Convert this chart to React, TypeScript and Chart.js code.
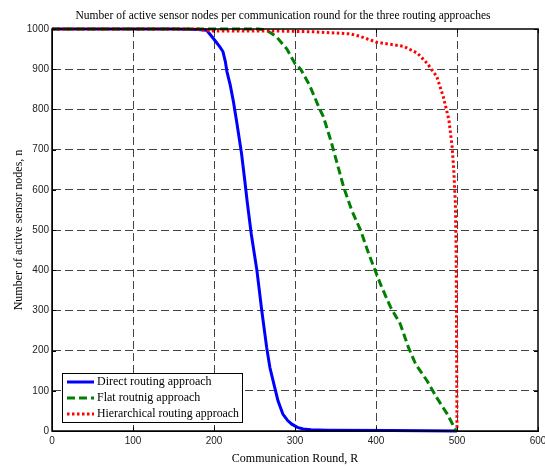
import React, { useEffect, useRef } from "react";
import { Chart, registerables } from "chart.js";

Chart.register(...registerables);

const TITLE = "Number of active sensor nodes per communication round for the three routing approaches";
const X_LABEL = "Communication Round, R";
const Y_LABEL = "Number of active sensor nodes, n";

const SERIES_NAMES = ["Direct routing approach", "Flat routnig approach", "Hierarchical routing approach"];
const SERIES_COLORS = ["#0000ff", "#008000", "#ff0000"];

const X_TICKS = [0, 100, 200, 300, 400, 500, 600];
const Y_TICKS = [0, 100, 200, 300, 400, 500, 600, 700, 800, 900, 1000];

const DIRECT_X = [0, 150, 180, 191, 199, 207, 211, 214, 216, 220, 224, 228, 234, 238, 241, 246, 253, 259, 265, 269, 275, 279, 285, 291, 296, 303, 310, 320, 340, 420, 500];
const DIRECT_Y = [1000, 1000, 999, 997, 977, 956, 944, 919, 894, 861, 819, 769, 690, 623, 570, 490, 399, 299, 208, 158, 108, 75, 42, 26, 17, 9, 5, 3, 2, 1, 0];

const FLAT_X = [0, 255, 265, 277, 290, 300, 307, 318, 330, 335, 344, 352, 360, 370, 381, 391, 399, 407, 418, 430, 440, 449, 463, 475, 488, 498, 500];
const FLAT_Y = [1000, 1000, 997, 981, 950, 914, 900, 860, 803, 782, 724, 666, 607, 549, 499, 441, 399, 358, 308, 266, 208, 166, 125, 83, 42, 4, 0];

const HIER_X = [0, 180, 195, 280, 323, 368, 380, 401, 434, 451, 463, 475, 483, 490, 494, 496, 498, 499, 500];
const HIER_Y = [1000, 1000, 995, 995, 993, 988, 982, 967, 957, 940, 915, 882, 832, 774, 707, 649, 566, 441, 0];

const toPoints = (xs: number[], ys: number[]) => xs.map((x, i) => ({ x, y: ys[i] }));

const SERIF = "'Liberation Serif', 'DejaVu Serif', serif";
const SANS = "'Liberation Sans', Arial, sans-serif";

const decorPlugin = {
  id: "decor",
  afterDatasetsDraw(chart: any) {
    const { ctx, chartArea: ca, scales } = chart;
    ctx.save();
    ctx.setLineDash([]);
    ctx.strokeStyle = "#000";
    ctx.lineWidth = 1.5;
    ctx.strokeRect(ca.left, ca.top, ca.right - ca.left, ca.bottom - ca.top);
    ctx.lineWidth = 1;
    X_TICKS.forEach((t) => {
      const px = Math.round(scales.x.getPixelForValue(t)) + 0.5;
      ctx.beginPath();
      ctx.moveTo(px, ca.bottom);
      ctx.lineTo(px, ca.bottom - 4);
      ctx.moveTo(px, ca.top);
      ctx.lineTo(px, ca.top + 4);
      ctx.stroke();
    });
    Y_TICKS.forEach((t) => {
      const py = Math.round(scales.y.getPixelForValue(t)) + 0.5;
      ctx.beginPath();
      ctx.moveTo(ca.left, py);
      ctx.lineTo(ca.left + 4, py);
      ctx.moveTo(ca.right, py);
      ctx.lineTo(ca.right - 4, py);
      ctx.stroke();
    });
    const lx = ca.left + 10;
    const ly = ca.bottom - 58;
    const lw = 180;
    const lh = 49;
    ctx.fillStyle = "#fff";
    ctx.fillRect(lx, ly, lw, lh);
    ctx.strokeStyle = "#000";
    ctx.lineWidth = 1;
    ctx.strokeRect(lx + 0.5, ly + 0.5, lw, lh);
    const dashes = [[], [8, 4], [2.5, 2.5]];
    ctx.font = `12px ${SERIF}`;
    ctx.textBaseline = "middle";
    ctx.textAlign = "left";
    SERIES_NAMES.forEach((name, i) => {
      const yy = ly + 9 + i * 16;
      ctx.setLineDash(dashes[i]);
      ctx.strokeStyle = SERIES_COLORS[i];
      ctx.lineWidth = 3;
      ctx.beginPath();
      ctx.moveTo(lx + 5, yy);
      ctx.lineTo(lx + 32, yy);
      ctx.stroke();
      ctx.setLineDash([]);
      ctx.fillStyle = "#000";
      ctx.fillText(name, lx + 35, yy, lw - 38);
    });
    ctx.restore();
  },
  afterDraw(chart: any) {
    const { ctx, chartArea: ca } = chart;
    ctx.save();
    ctx.fillStyle = "#000";
    ctx.textAlign = "center";
    ctx.textBaseline = "middle";
    ctx.font = `12.5px ${SERIF}`;
    ctx.fillText(TITLE, 283, 16, 415);
    ctx.font = `12px ${SERIF}`;
    ctx.fillText(X_LABEL, (ca.left + ca.right) / 2, 459);
    ctx.translate(19, (ca.top + ca.bottom) / 2);
    ctx.rotate(-Math.PI / 2);
    ctx.fillText(Y_LABEL, 0, 0);
    ctx.restore();
  },
};

export default function App() {
  const ref = useRef<HTMLCanvasElement>(null);
  useEffect(() => {
    document.body.style.margin = "0";
    const gridColor = (ctx: any) => {
      const v = ctx.tick ? ctx.tick.value : null;
      if (v === ctx.scale.max || v === ctx.scale.min) return "rgba(0,0,0,0)";
      return "#444";
    };
    const chart = new Chart(ref.current!, {
      type: "line",
      data: {
        datasets: [
          {
            label: SERIES_NAMES[0],
            data: toPoints(DIRECT_X, DIRECT_Y),
            borderColor: SERIES_COLORS[0],
            borderWidth: 3,
            pointRadius: 0,
            tension: 0,
            clip: false as any,
            order: 3,
          },
          {
            label: SERIES_NAMES[1],
            data: toPoints(FLAT_X, FLAT_Y),
            borderColor: SERIES_COLORS[1],
            borderWidth: 3,
            borderDash: [8, 4],
            pointRadius: 0,
            tension: 0,
            clip: false as any,
            order: 2,
          },
          {
            label: SERIES_NAMES[2],
            data: toPoints(HIER_X, HIER_Y),
            borderColor: SERIES_COLORS[2],
            borderWidth: 3,
            borderDash: [2.5, 2.5],
            pointRadius: 0,
            tension: 0,
            clip: false as any,
            order: 1,
          },
        ],
      },
      options: {
        responsive: false,
        animation: false,
        events: [],
        layout: { padding: { top: 29, right: 7, left: 0, bottom: 0 } },
        plugins: { legend: { display: false }, title: { display: false }, tooltip: { enabled: false } },
        scales: {
          x: {
            type: "linear",
            min: 0,
            max: 600,
            afterBuildTicks: (s: any) => {
              s.ticks = X_TICKS.map((v) => ({ value: v }));
            },
            afterFit: (s: any) => {
              s.height = 35;
              s.paddingLeft = 0;
              s.paddingRight = 0;
            },
            ticks: { color: "#222", font: { family: SANS, size: 10 }, padding: 4, maxRotation: 0, callback: (v: any) => String(v) },
            grid: { color: gridColor, lineWidth: 1, drawTicks: false },
            border: { display: true, color: "#000", width: 1, dash: [8, 4] },
          },
          y: {
            type: "linear",
            min: 0,
            max: 1000,
            afterBuildTicks: (s: any) => {
              s.ticks = Y_TICKS.map((v) => ({ value: v }));
            },
            afterFit: (s: any) => {
              s.width = 52;
              s.paddingTop = 0;
              s.paddingBottom = 0;
            },
            ticks: { color: "#222", font: { family: SANS, size: 10 }, padding: 3, callback: (v: any) => String(v) },
            grid: { color: gridColor, lineWidth: 1, drawTicks: false },
            border: { display: true, color: "#000", width: 1, dash: [8, 4] },
          },
        },
      },
      plugins: [decorPlugin],
    });
    return () => chart.destroy();
  }, []);
  return (
    <div style={{ width: 545, height: 466, background: "#fff" }}>
      <canvas ref={ref} width={545} height={466} style={{ display: "block" }} />
    </div>
  );
}
